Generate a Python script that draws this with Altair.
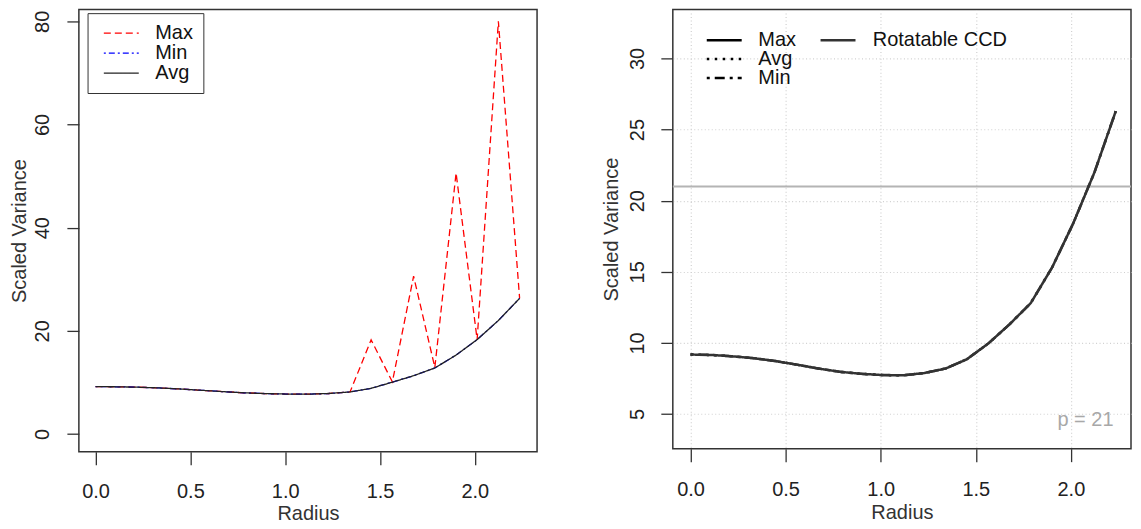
import altair as alt
import pandas as pd

FONT = "Liberation Sans"

# ---------------- data ----------------
radius = [0.000, 0.112, 0.224, 0.335, 0.447, 0.559, 0.671, 0.783, 0.894, 1.006, 1.118,
          1.230, 1.342, 1.453, 1.565, 1.677, 1.789, 1.901, 2.012, 2.124, 2.236]

# left panel
max_var = [9.18, 9.15, 9.07, 8.93, 8.72, 8.47, 8.21, 7.98, 7.83, 7.74, 7.72,
           7.85, 8.15, 18.25, 10.1, 30.6, 12.9, 50.6, 18.3, 80.0, 26.3]
min_var = [9.18, 9.15, 9.07, 8.93, 8.72, 8.47, 8.21, 7.98, 7.83, 7.74, 7.72,
           7.85, 8.15, 8.85, 10.05, 11.3, 12.8, 15.3, 18.3, 22.0, 26.3]
avg_var = [9.18, 9.15, 9.07, 8.93, 8.72, 8.47, 8.21, 7.98, 7.83, 7.74, 7.72,
           7.85, 8.15, 8.85, 10.05, 11.3, 12.8, 15.3, 18.3, 22.0, 26.3]

# right panel (Rotatable CCD)
ccd_max = [9.18, 9.15, 9.05, 8.92, 8.72, 8.47, 8.20, 7.97, 7.83, 7.74, 7.72,
           7.88, 8.20, 8.85, 9.95, 11.3, 12.8, 15.3, 18.4, 22.0, 26.3]
ccd_avg = [9.18, 9.15, 9.05, 8.92, 8.72, 8.47, 8.20, 7.97, 7.83, 7.74, 7.72,
           7.88, 8.20, 8.85, 9.95, 11.3, 12.8, 15.3, 18.4, 22.0, 26.3]
ccd_min = [9.18, 9.15, 9.05, 8.92, 8.72, 8.47, 8.20, 7.97, 7.83, 7.74, 7.72,
           7.88, 8.20, 8.85, 9.95, 11.3, 12.8, 15.3, 18.4, 22.0, 26.3]

left_series = ["Max", "Min", "Avg"]
right_stats = ["Max", "Avg", "Min"]
design_name = ["Rotatable CCD"]
p_value = [21]
p_label_pos = [2.224, 4.56]

x_ticks = [0.0, 0.5, 1.0, 1.5, 2.0]
left_y_ticks = [0, 20, 40, 60, 80]
right_y_ticks = [5, 10, 15, 20, 25, 30]

# ---------------- tables ----------------
n = len(radius)
left_df = pd.DataFrame({
    "Radius": radius * 3,
    "Variance": max_var + min_var + avg_var,
    "series": ["Max"] * n + ["Min"] * n + ["Avg"] * n,
})
right_df = pd.DataFrame({
    "Radius": radius * 3,
    "Variance": ccd_max + ccd_avg + ccd_min,
    "stat": ["Max"] * n + ["Avg"] * n + ["Min"] * n,
    "design": design_name * (3 * n),
})
hline_df = pd.DataFrame({"Variance": p_value})
ptext_df = pd.DataFrame({"Radius": [p_label_pos[0]], "Variance": [p_label_pos[1]],
                         "label": [f"p = {p_value[0]}"]})

# ---------------- left panel ----------------
LW, LH = 459, 443
xl = alt.X("Radius:Q",
           scale=alt.Scale(domain=[-0.088, 2.328], nice=False, zero=False),
           axis=alt.Axis(values=x_ticks, format=".1f", title="Radius",
                         tickSize=13, labelPadding=26.8, labelBaseline="middle",
                         titleX=LW / 2, titleY=61.5, titleBaseline="middle",
                         titleAlign="center"))
yl = alt.Y("Variance:Q",
           scale=alt.Scale(domain=[-3.43, 82.31], nice=False, zero=False),
           axis=alt.Axis(values=left_y_ticks, format="d", title="Scaled Variance",
                         tickSize=12, labelPadding=24, labelAngle=270,
                         labelAlign="center", labelBaseline="middle",
                         titleAngle=270, titleX=-59.8, titleY=LH / 2,
                         titleAlign="center", titleBaseline="middle"))
left_legend = alt.Legend(title=None, orient="none", legendX=8.7, legendY=3.7,
                         symbolType="stroke", symbolSize=1225, symbolStrokeWidth=1.3,
                         clipHeight=20, rowPadding=0, padding=10, symbolOffset=5.3,
                         labelOffset=15.5, strokeColor="#333333", fillColor="white",
                         labelFontSize=20, labelFont=FONT, labelColor="#111111")
col_l = alt.Color("series:N",
                  scale=alt.Scale(domain=left_series, range=["#ff0000", "#0000ff", "#222222"]),
                  legend=left_legend, sort=left_series)
dash_l = alt.StrokeDash("series:N",
                        scale=alt.Scale(domain=left_series, range=[[7, 4], [2, 3, 6, 3], [1, 0]]),
                        legend=left_legend, sort=left_series)

left_layers = []
for s in left_series:
    left_layers.append(
        alt.Chart(left_df).transform_filter(alt.datum.series == s)
        .mark_line(strokeWidth=1.3, clip=True)
        .encode(x=xl, y=yl, color=col_l, strokeDash=dash_l)
    )
left = alt.layer(*left_layers).properties(width=LW, height=LH)

# ---------------- right panel ----------------
RW, RH = 459, 440
grid_kw = dict(grid=True, gridColor="#d0d0d0", gridDash=[1, 2.5], gridWidth=1.2)
xr_scale = alt.Scale(domain=[-0.093, 2.316], nice=False, zero=False)
xr = alt.X("Radius:Q", scale=xr_scale,
           axis=alt.Axis(values=x_ticks, format=".1f", title="Radius",
                         tickSize=13, labelPadding=27.9, labelBaseline="middle",
                         titleX=RW / 2, titleY=63.9, titleBaseline="middle",
                         titleAlign="center", **grid_kw))
yr_scale = alt.Scale(domain=[2.56, 33.45], nice=False, zero=False)
yr = alt.Y("Variance:Q", scale=yr_scale,
           axis=alt.Axis(values=right_y_ticks, format="d", title="Scaled Variance",
                         tickSize=12, labelPadding=23, labelAngle=270,
                         labelAlign="center", labelBaseline="middle",
                         titleAngle=270, titleX=-61, titleY=RH / 2,
                         titleAlign="center", titleBaseline="middle", **grid_kw))

leg_common = dict(title=None, orient="none", symbolType="stroke", symbolSize=1225,
                  symbolStrokeWidth=2.5, clipHeight=17.5, rowPadding=-2.5, padding=0,
                  labelFontSize=20, labelFont=FONT, labelColor="#111111")
dash_r = alt.StrokeDash("stat:N",
                        scale=alt.Scale(domain=right_stats,
                                        range=[[1, 0], [2.5, 5.5], [3, 5, 10, 5]]),
                        sort=right_stats,
                        legend=alt.Legend(legendX=32.5, legendY=22, labelOffset=15.2,
                                          symbolStrokeColor="black", **leg_common))
col_r = alt.Color("design:N",
                  scale=alt.Scale(domain=design_name, range=["#333333"]),
                  legend=alt.Legend(legendX=146.5, legendY=22, labelOffset=15.8,
                                    **leg_common))

rule = alt.Chart(hline_df).mark_rule(color="#b4b4b4", strokeWidth=1.8).encode(y=yr)
right_layers = [rule]
for s in right_stats:
    right_layers.append(
        alt.Chart(right_df).transform_filter(alt.datum.stat == s)
        .mark_line(strokeWidth=2.5, clip=True)
        .encode(x=xr, y=yr, color=col_r, strokeDash=dash_r)
    )
ptext = alt.Chart(ptext_df).mark_text(align="right", baseline="middle", fontSize=20,
                                      font=FONT, color="#a8a8a8").encode(
    x=xr, y=yr, text="label:N")
right_layers.append(ptext)
right = alt.layer(*right_layers).properties(width=RW, height=RH)

chart = (
    alt.hconcat(left, right, spacing=63)
    .resolve_scale(color="independent", strokeDash="independent")
    .resolve_legend(color="independent", strokeDash="independent")
    .properties(padding={"left": 0, "top": 0, "right": 0, "bottom": 0}, background="white")
    .configure_view(stroke="#333333", strokeWidth=1.5)
    .configure_axis(domain=False, tickColor="#333333", tickWidth=1.3,
                    labelFont=FONT, labelFontSize=20, labelColor="#222222",
                    titleFont=FONT, titleFontSize=20, titleColor="#333333",
                    titleFontWeight="normal", grid=False)
)

chart.save("out.html", embed_options={"renderer": "svg", "actions": False})
